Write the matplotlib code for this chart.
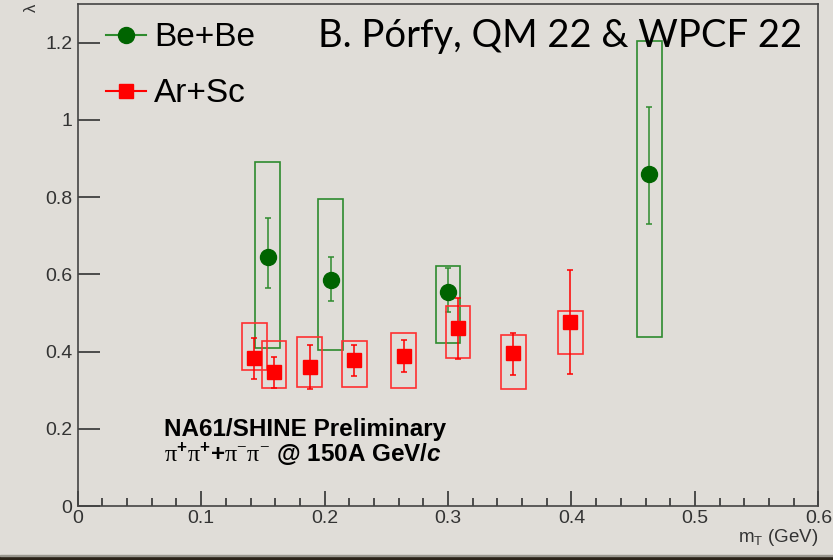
import numpy as np
import matplotlib
matplotlib.use("Agg")
import matplotlib.pyplot as plt
from matplotlib.patches import Rectangle
from matplotlib.lines import Line2D

# Be+Be (green)
be_x = [0.154, 0.205, 0.300, 0.463]
be_y = [0.645, 0.584, 0.554, 0.859]
be_stat_lo = [0.565, 0.531, 0.502, 0.730]
be_stat_hi = [0.747, 0.645, 0.616, 1.032]
be_sys_lo = [0.408, 0.403, 0.423, 0.438]
be_sys_hi = [0.892, 0.795, 0.621, 1.205]

# Ar+Sc (red)
ar_x = [0.143, 0.159, 0.188, 0.224, 0.264, 0.308, 0.353, 0.399]
ar_y = [0.382, 0.346, 0.359, 0.377, 0.388, 0.461, 0.395, 0.477]
ar_stat_lo = [0.329, 0.305, 0.302, 0.336, 0.347, 0.381, 0.339, 0.343]
ar_stat_hi = [0.434, 0.386, 0.418, 0.418, 0.429, 0.539, 0.448, 0.612]
ar_sys_lo = [0.352, 0.305, 0.309, 0.308, 0.306, 0.383, 0.304, 0.393]
ar_sys_hi = [0.473, 0.428, 0.438, 0.428, 0.448, 0.517, 0.442, 0.504]

bg = "#e0ddd8"
green_mk = "#006400"
green_box = "#2e8b2e"
red = "#ff0000"
red_box = "#ff3030"

plt.rcParams["font.family"] = ["Liberation Sans", "DejaVu Sans"]
plt.rcParams["mathtext.fontset"] = "custom"
plt.rcParams["mathtext.rm"] = "Liberation Serif"
plt.rcParams["mathtext.it"] = "Liberation Sans:italic:bold"
plt.rcParams["mathtext.bf"] = "Liberation Sans:bold"

fig = plt.figure(figsize=(8.33, 5.6), dpi=100, facecolor=bg)
ax = fig.add_axes([0.0933, 0.0964, 0.8891, 0.8966])
ax.set_facecolor(bg)

hw = 0.01
def draw(xs, ys, slo, shi, blo, bhi, mk, mcol, ecol, bcol, ms, z):
    for x, lo, hi in zip(xs, blo, bhi):
        ax.add_patch(Rectangle((x - hw, lo), 2 * hw, hi - lo, fill=False,
                               edgecolor=bcol, lw=1.2, zorder=z))
    yerr = [np.array(ys) - np.array(slo), np.array(shi) - np.array(ys)]
    ax.errorbar(xs, ys, yerr=yerr, fmt=mk, color=mcol, ecolor=ecol,
                ms=ms, elinewidth=1.1, capsize=2.2, capthick=1.1, zorder=z + 1)

draw(be_x, be_y, be_stat_lo, be_stat_hi, be_sys_lo, be_sys_hi,
     "o", green_mk, green_box, green_box, 11.5, 2)
draw(ar_x, ar_y, ar_stat_lo, ar_stat_hi, ar_sys_lo, ar_sys_hi,
     "s", red, red, red_box, 10.5, 4)

ax.set_xlim(0, 0.6)
ax.set_ylim(0, 1.3)
ax.set_xticks(np.arange(0, 0.61, 0.1))
ax.set_xticklabels(["0", "0.1", "0.2", "0.3", "0.4", "0.5", "0.6"])
ax.set_xticks(np.arange(0, 0.6, 0.02), minor=True)
ax.set_yticks(np.arange(0, 1.21, 0.2))
ax.set_yticklabels(["0", "0.2", "0.4", "0.6", "0.8", "1", "1.2"])
ax.tick_params(axis="both", which="both", direction="in", color="#333333",
               labelcolor="#333333", labelsize=14, width=1.2)
ax.tick_params(axis="x", which="major", length=11, pad=3)
ax.tick_params(axis="x", which="minor", length=5.5)
ax.tick_params(axis="y", which="major", length=16, pad=4)
for s in ax.spines.values():
    s.set_color("#444444")
    s.set_linewidth(1.2)

ax.set_xlabel("m$_{\\mathregular{T}}$ (GeV)", fontsize=13.5, color="#333333",
              loc="right", labelpad=0)
ax.set_ylabel("λ", fontsize=12, color="#333333", loc="top", labelpad=4)

handles = [Line2D([], [], color=green_box, marker="o", mfc=green_mk, mec=green_mk, ms=11.5, lw=1.5),
           Line2D([], [], color=red, marker="s", ms=10.5, lw=1.5)]
ax.legend(handles, ["Be+Be", "Ar+Sc"], loc="upper left", bbox_to_anchor=(0.02, 0.99),
          frameon=False, fontsize=24, handlelength=1.2, handletextpad=0.24,
          labelspacing=0.75, borderaxespad=0)

fig.text(560 / 833, 1 - 47 / 560, "B. Pórfy, QM 22 & WPCF 22", family="Lato",
         fontsize=27.5, ha="center", va="baseline", color="black")

ax.text(0.117, 1 - (435.7 - 4) / 502, "NA61/SHINE Preliminary", transform=ax.transAxes,
        fontsize=17.5, fontweight="bold", va="baseline", ha="left")
ax.text(0.117, 1 - (461.7 - 4) / 502,
        r"$\mathrm{\pi}^{\mathbf{+}}\mathrm{\pi}^{\mathbf{+}}\mathbf{+}\mathrm{\pi}^{-}\mathrm{\pi}^{-}$ @ 150A GeV/$c$",
        transform=ax.transAxes, fontsize=17.5, fontweight="bold", va="baseline", ha="left")

# bottom border of the slide
fig.patches.append(Rectangle((0, 0), 1, 4 / 560, transform=fig.transFigure,
                             color="#2a2218", zorder=0))
fig.patches.append(Rectangle((0, 4 / 560), 1, 1.5 / 560, transform=fig.transFigure,
                             color="#9a9890", zorder=0))

fig.savefig("out.png", dpi=100, facecolor=bg)
